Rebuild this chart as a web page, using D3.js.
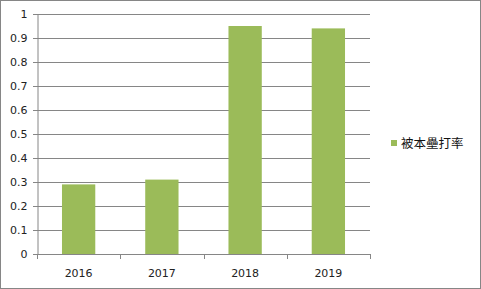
<!DOCTYPE html>
<html>
<head>
<meta charset="utf-8">
<script src="https://cdn.jsdelivr.net/npm/d3@7"></script>
<style>
  body { margin: 0; background: #fff; }
  svg { display: block; }
</style>
</head>
<body>
<div id="chart"></div>
<script>
// chart data
var years = ["2016", "2017", "2018", "2019"]
var rates = [0.29, 0.31, 0.95, 0.94]
var yTicks = [0, 0.1, 0.2, 0.3, 0.4, 0.5, 0.6, 0.7, 0.8, 0.9, 1]
var seriesName = "被本壘打率"

var width = 481, height = 289
var margin = { left: 37, right: 111, top: 14, bottom: 35 }
var gridColor = "#868686"
var barColor = "#9BBB59"

var svg = d3.select("#chart").append("svg")
	.attr("width", width)
	.attr("height", height)

// outer frame
svg.append("rect")
	.attr("x", 0.5).attr("y", 0.5)
	.attr("width", width - 1).attr("height", height - 1)
	.style("fill", "#fff")
	.style("stroke", gridColor)

var x = d3.scaleBand()
	.domain(years)
	.range([margin.left, width - margin.right])
	.paddingInner(0.6)
	.paddingOuter(0.3)

var y = d3.scaleLinear()
	.domain([0, 1])
	.range([height - margin.bottom, margin.top])

// gridlines
svg.append("g")
	.selectAll("line")
	.data(yTicks)
	.enter().append("line")
		.attr("x1", margin.left - 4)
		.attr("x2", width - margin.right)
		.attr("y1", function(d) { return Math.round(y(d)) + 0.5 })
		.attr("y2", function(d) { return Math.round(y(d)) + 0.5 })
		.style("stroke", gridColor)
		.style("stroke-width", "1px")

// bars
svg.append("g")
	.selectAll("rect")
	.data(rates)
	.enter().append("rect")
		.attr("x", function(d, i) { return x(years[i]) })
		.attr("width", x.bandwidth())
		.attr("y", function(d) { return y(d) })
		.attr("height", function(d) { return y(0) - y(d) })
		.style("fill", barColor)

// y axis
var yAxis = svg.append("g")
	.attr("transform", "translate(" + (margin.left + 0.5) + ",0)")
	.call(d3.axisLeft(y).tickValues(yTicks).tickSize(4).tickPadding(6)
		.tickFormat(function(d) { return String(+d.toFixed(1)) }))
yAxis.select(".domain").style("stroke", gridColor)
yAxis.selectAll(".tick line").style("stroke", gridColor)
yAxis.selectAll("text")
	.style("font-family", "'DejaVu Sans', Verdana, sans-serif")
	.style("font-size", "11px")
	.style("fill", "#222")

// x axis, ticks sit on band boundaries
var bounds = [margin.left].concat(years.map(function(d) { return x(d) + x.bandwidth() + x.step() * 0.3 }))
var xg = svg.append("g")
xg.append("line")
	.attr("x1", margin.left).attr("x2", width - margin.right)
	.attr("y1", Math.round(y(0)) + 0.5).attr("y2", Math.round(y(0)) + 0.5)
	.style("stroke", gridColor)
xg.selectAll(".tk")
	.data(bounds)
	.enter().append("line")
		.attr("x1", function(d) { return Math.round(d) + 0.5 })
		.attr("x2", function(d) { return Math.round(d) + 0.5 })
		.attr("y1", y(0))
		.attr("y2", y(0) + 5)
		.style("stroke", gridColor)
xg.selectAll("text")
	.data(years)
	.enter().append("text")
		.attr("x", function(d) { return x(d) + x.bandwidth() / 2 })
		.attr("y", y(0) + 23)
		.attr("text-anchor", "middle")
		.style("font-family", "'DejaVu Sans', Verdana, sans-serif")
		.style("font-size", "11px")
		.style("fill", "#222")
		.text(function(d) { return d })

// legend
var legend = svg.append("g").attr("transform", "translate(391,140)")
legend.append("rect")
	.attr("width", 6).attr("height", 6)
	.style("fill", barColor)
legend.append("text")
	.attr("x", 10).attr("y", 8)
	.style("font-family", "'Noto Sans CJK TC', sans-serif")
	.style("font-size", "12.5px")
	.style("fill", "#111")
	.text(seriesName)
</script>
</body>
</html>
